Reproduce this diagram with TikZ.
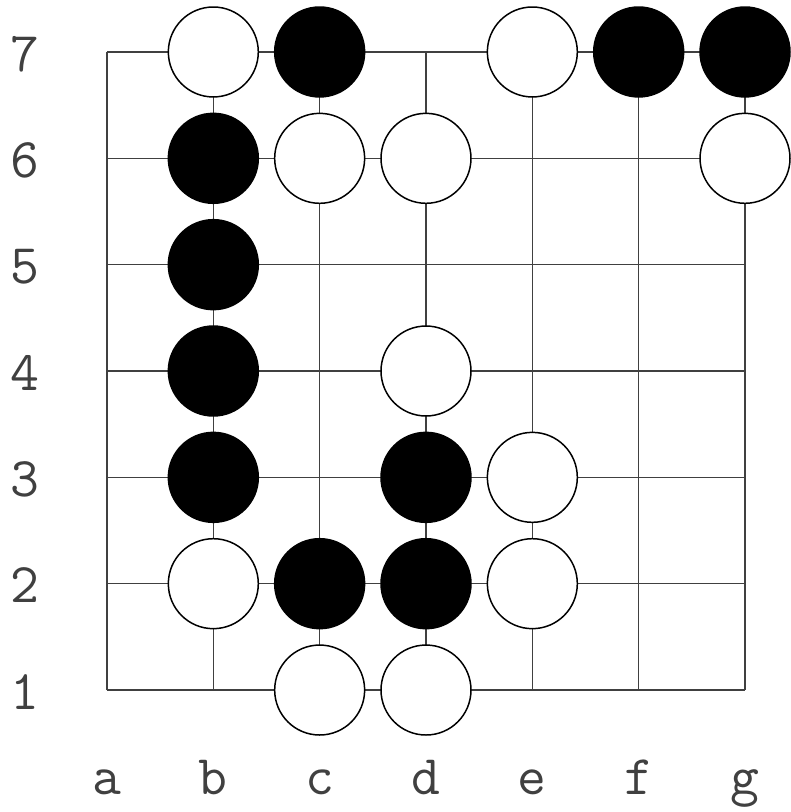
\documentclass[tikz,border=0pt]{standalone}
\usepackage{tikz}

\begin{document}
\begin{tikzpicture}[
  x=1cm, y=1cm,
  grid/.style={line width=0.4pt, black!75},
  stone/.style={circle, draw=black, line width=0.4pt,
                minimum size=0.846cm, inner sep=0pt},
  bstone/.style={stone, fill=black},
  wstone/.style={stone, fill=white},
  lbl/.style={font=\ttfamily\fontsize{15}{17}\selectfont,
              text=black!75, anchor=base}
]
\useasboundingbox (-1.006,-1.147) rectangle (6.423,6.489);
% board
\foreach \i in {0,...,6} {
  \draw[grid] (\i,0) -- (\i,6);
  \draw[grid] (0,\i) -- (6,\i);
}
% stones, row 7
\node[wstone] (b7) at (1,6) {};
\node[bstone] (c7) at (2,6) {};
\node[wstone] (e7) at (4,6) {};
\node[bstone] (f7) at (5,6) {};
\node[bstone] (g7) at (6,6) {};
% row 6
\node[bstone] (b6) at (1,5) {};
\node[wstone] (c6) at (2,5) {};
\node[wstone] (d6) at (3,5) {};
\node[wstone] (g6) at (6,5) {};
% rows 5 to 3
\node[bstone] (b5) at (1,4) {};
\node[bstone] (b4) at (1,3) {};
\node[wstone] (d4) at (3,3) {};
\node[bstone] (b3) at (1,2) {};
\node[bstone] (d3) at (3,2) {};
\node[wstone] (e3) at (4,2) {};
% row 2
\node[wstone] (b2) at (1,1) {};
\node[bstone] (c2) at (2,1) {};
\node[bstone] (d2) at (3,1) {};
\node[wstone] (e2) at (4,1) {};
% row 1
\node[wstone] (c1) at (2,0) {};
\node[wstone] (d1) at (3,0) {};
% coordinates
\foreach \n in {1,...,7}
  \node[lbl] (n\n) at (-0.776,\n-1.18) {\n};
\foreach \l [count=\k from 0] in {a,b,c,d,e,f,g}
  \node[lbl] (l\l) at (\k,-0.978) {\l};
\end{tikzpicture}
\end{document}
